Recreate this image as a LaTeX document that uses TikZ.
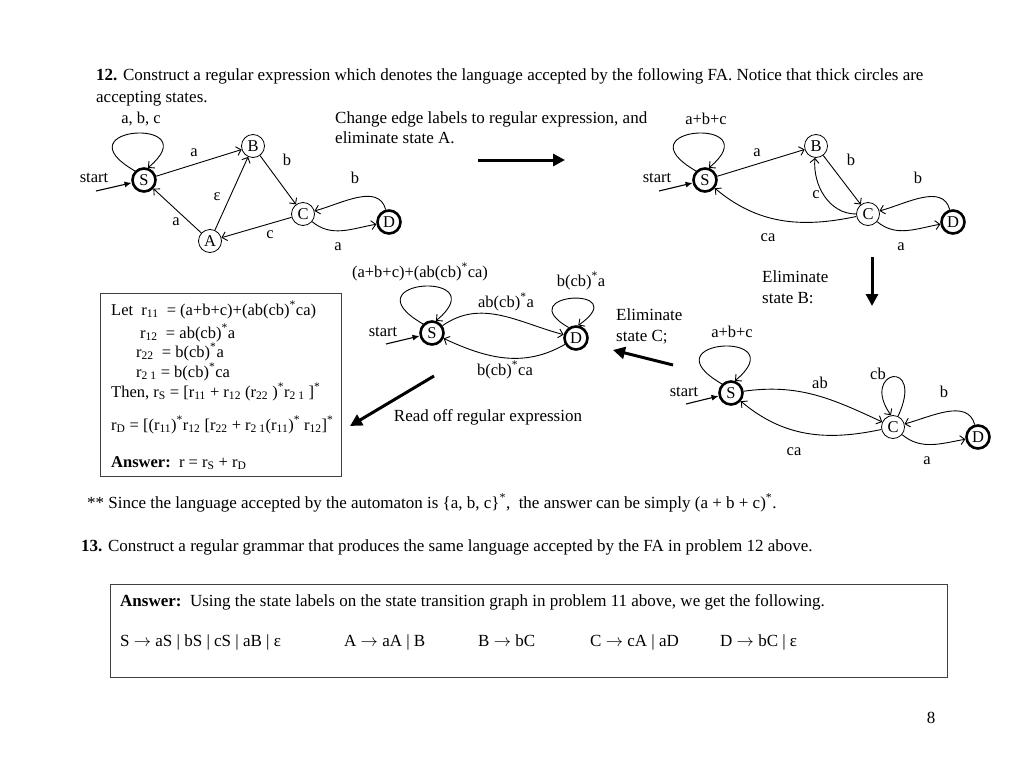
\documentclass[tikz,border=0pt]{standalone}
\usepackage{fontspec}
\setmainfont{Liberation Serif}
\usetikzlibrary{arrows.meta}
\newcommand\lblfont{\fontsize{16.5}{19}\selectfont}
\newcommand\bodyfont{\fontsize{17}{20}\selectfont}
\newcommand\supstar{\textsuperscript{*}}
\newcommand\arr{$\rightarrow$}
\begin{document}
\begin{tikzpicture}[x=1pt,y=1pt,
 state/.style={circle,draw,minimum size=23pt,inner sep=0pt,line width=0.8pt,font=\lblfont},
 acc/.style={state,line width=2.6pt},
 edge/.style={line width=0.9pt,-{Straight Barb[length=4.5pt,width=9pt]}},
 startarr/.style={line width=1.1pt,-{Latex[length=7pt,width=6pt]}},
 bigarr/.style={line width=3pt,-{Triangle[length=12pt,width=12pt]}},
 lbl/.style={font=\lblfont,inner sep=1pt},
 txt/.style={font=\bodyfont,inner sep=0pt,anchor=base west},
 btxt/.style={font=\lblfont,inner sep=0pt,anchor=base west},
 frame/.style={line width=1pt,draw=black!75},
 sloop/.style={edge,to path={(\tikztostart.135) .. controls +(150:90) and +(40:80) .. (\tikztostart.72)}}]
\fill[white] (0,0) rectangle (1024,-768);
\useasboundingbox (0,0) rectangle (1024,-768);

% heading
\node[txt] (h1) at (96,-80) {\textbf{12.} Construct a regular expression which denotes the language accepted by the following FA. Notice that thick circles are};
\node[txt] (h2) at (96,-102) {accepting states.};

% ---------- top-left FA ----------
\node[acc] (S1) at (144,-180) {S};
\node[state] (B1) at (253,-146) {B};
\node[state] (C1) at (303,-214) {C};
\node[state] (A1) at (210,-241) {A};
\node[acc] (D1) at (389,-222) {D};
\coordinate (st1) at (96,-191);
\node[lbl] (st1l) at (94,-178) {start};
\draw[startarr] (st1) -- (S1);
\draw[sloop] (S1) to (S1);
\node[lbl] (l1a) at (141,-119) {a, b, c};
\draw[edge] (S1) -- (B1); \node[lbl] (l1b) at (194,-153) {a};
\draw[edge] (B1) -- (C1); \node[lbl] (l1c) at (287,-160) {b};
\draw[edge] (A1) -- (B1); \node[lbl] (l1d) at (217,-197) {ε};
\draw[edge] (A1) -- (S1); \node[lbl] (l1e) at (176,-222) {a};
\draw[edge] (C1) -- (A1); \node[lbl] (l1f) at (270,-235) {c};
\draw[edge] (C1) to[out=-40,in=190] (D1); \node[lbl] (l1g) at (338,-247) {a};
\draw[edge] (D1) to[out=105,in=15] (C1); \node[lbl] (l1h) at (355,-178) {b};

\node[txt] (t1) at (335,-123) {Change edge labels to regular expression, and};
\node[txt] (t2) at (335,-143) {eliminate state A.};
\coordinate (ar1a) at (478,-160);
\coordinate (ar1b) at (565,-160);
\draw[bigarr] (ar1a) -- (ar1b);

% ---------- top-right FA ----------
\node[acc] (S2) at (705,-180) {S};
\node[state] (B2) at (816,-146) {B};
\node[state] (C2) at (868,-214) {C};
\node[acc] (D2) at (953,-222) {D};
\coordinate (st2) at (659,-191);
\node[lbl] (st2l) at (657,-178) {start};
\draw[startarr] (st2) -- (S2);
\draw[sloop] (S2) to (S2);
\node[lbl] (l2a) at (706,-119) {a+b+c};
\draw[edge] (S2) -- (B2); \node[lbl] (l2b) at (757,-153) {a};
\draw[edge] (B2) -- (C2); \node[lbl] (l2c) at (851,-160) {b};
\draw[edge] (C2) to[out=180,in=-95] (B2); \node[lbl] (l2d) at (816,-195) {c};
\draw[edge] (C2) to[out=192,in=-40] (S2); \node[lbl] (l2e) at (768,-238) {ca};
\draw[edge] (C2) to[out=-40,in=190] (D2); \node[lbl] (l2f) at (901,-247) {a};
\draw[edge] (D2) to[out=105,in=15] (C2); \node[lbl] (l2g) at (918,-178) {b};

\coordinate (ar2a) at (872,-257);
\coordinate (ar2b) at (872,-306);
\draw[bigarr] (ar2a) -- (ar2b);
\node[txt] (t3) at (762,-282) {Eliminate};
\node[txt] (t4) at (762,-303) {state B:};

% ---------- bottom-right FA ----------
\node[acc] (S3) at (731,-393) {S};
\node[state] (C3) at (893,-427) {C};
\node[acc] (D3) at (978,-437) {D};
\coordinate (st3) at (686,-404);
\node[lbl] (st3l) at (684,-392) {start};
\draw[startarr] (st3) -- (S3);
\draw[sloop] (S3) to (S3);
\node[lbl] (l3a) at (732,-332) {a+b+c};
\draw[edge] (S3) to[out=8,in=155] (C3); \node[lbl] (l3b) at (820,-383) {ab};
\draw[edge] (C3) to[out=192,in=-40] (S3); \node[lbl] (l3c) at (794,-452) {ca};
\draw[edge] (C3.65) .. controls +(65:65) and +(125:55) .. (C3.100); \node[lbl] (l3d) at (878,-374) {cb};
\draw[edge] (C3) to[out=-40,in=190] (D3); \node[lbl] (l3e) at (927,-461) {a};
\draw[edge] (D3) to[out=105,in=15] (C3); \node[lbl] (l3f) at (944,-392) {b};

\coordinate (ar3a) at (673,-365);
\coordinate (ar3b) at (613,-350);
\draw[bigarr] (ar3a) -- (ar3b);
\node[txt] (t5) at (616,-320) {Eliminate};
\node[txt] (t6) at (616,-341) {state C;};

% ---------- middle FA ----------
\node[acc] (S4) at (432,-333) {S};
\node[acc] (D4) at (576,-338) {D};
\coordinate (st4) at (386,-344);
\node[lbl] (st4l) at (383,-332) {start};
\draw[startarr] (st4) -- (S4);
\draw[sloop] (S4) to (S4);
\node[lbl] (l4a) at (420,-272) {(a+b+c)+(ab(cb)\supstar ca)};
\draw[edge] (D4.125) .. controls +(150:70) and +(35:70) .. (D4.80);
\node[lbl] (l4b) at (581,-281) {b(cb)\supstar a};
\draw[edge] (S4) to[out=35,in=165] (D4); \node[lbl] (l4c) at (506,-302) {ab(cb)\supstar a};
\draw[edge] (D4) to[out=210,in=-25] (S4); \node[lbl] (l4d) at (505,-370) {b(cb)\supstar ca};

\coordinate (ar4a) at (434,-376);
\coordinate (ar4b) at (350,-426);
\draw[bigarr] (ar4a) -- (ar4b);
\node[font=\bodyfont,inner sep=0pt] (t7) at (488,-417) {Read off regular expression};

% ---------- left box ----------
\draw[frame] (100,-293) rectangle (341,-476);
\node[btxt] (b1) at (111,-315) {Let\ \ r\textsubscript{11}\ \ = (a+b+c)+(ab(cb)\supstar ca)};
\node[btxt] (b2) at (140,-338) {r\textsubscript{12}\ \ = ab(cb)\supstar a};
\node[btxt] (b3) at (136,-357) {r\textsubscript{22}\ \ = b(cb)\supstar a};
\node[btxt] (b4) at (136,-377) {r\textsubscript{2 1} = b(cb)\supstar ca};
\node[btxt] (b5) at (111,-397) {Then, r\textsubscript{S} = [r\textsubscript{11} + r\textsubscript{12} (r\textsubscript{22} )\supstar r\textsubscript{2 1} ]\supstar};
\node[btxt] (b6) at (111,-430) {r\textsubscript{D} = [(r\textsubscript{11})\supstar r\textsubscript{12} [r\textsubscript{22} + r\textsubscript{2 1}(r\textsubscript{11})\supstar\ r\textsubscript{12}]\supstar};
\node[btxt] (b7) at (111,-467) {\textbf{Answer:}\ \ r = r\textsubscript{S} + r\textsubscript{D}};

% ---------- bottom text ----------
\node[txt] (n1) at (87,-508) {** Since the language accepted by the automaton is \{a, b, c\}\supstar,\ \ the answer can be simply (a + b + c)\supstar.};
\node[txt] (n2) at (81,-551) {\textbf{13.} Construct a regular grammar that produces the same language accepted by the FA in problem 12 above.};
\draw[frame] (110,-584) rectangle (947,-677);
\node[txt] (n3) at (120,-606) {\textbf{Answer:}\ \ Using the state labels on the state transition graph in problem 11 above, we get the following.};
\node[txt] (p1) at (120,-646) {S \arr\ aS | bS | cS | aB | ε};
\node[txt] (p2) at (344,-646) {A \arr\ aA | B};
\node[txt] (p3) at (478,-646) {B \arr\ bC};
\node[txt] (p4) at (590,-646) {C \arr\ cA | aD};
\node[txt] (p5) at (720,-646) {D \arr\ bC | ε};
\node[font=\bodyfont,inner sep=0pt] (pg) at (931,-718) {8};
\end{tikzpicture}
\end{document}
